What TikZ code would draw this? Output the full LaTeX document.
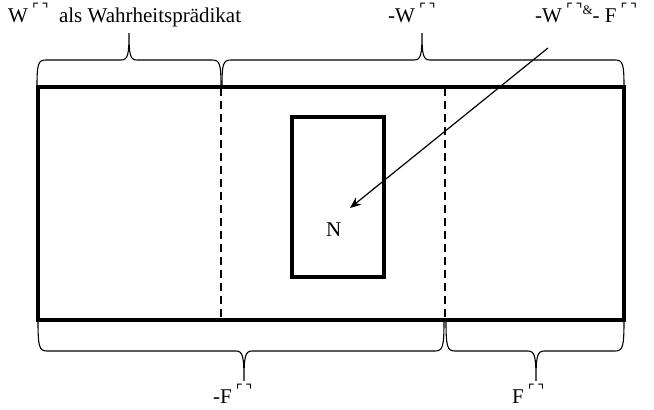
\documentclass[tikz,border=0pt]{standalone}
\usepackage{fontspec}
\setmainfont{Liberation Serif}
\newfontfamily\djv{DejaVu Sans}
\usetikzlibrary{arrows.meta}
\newcommand{\qc}{\kern4pt\raisebox{7.5pt}{\djv\fontsize{15}{15}\selectfont ⌜\kern2.5pt⌝}}
\newcommand{\supamp}{\raisebox{8pt}{\fontsize{13}{13}\selectfont \&}}
\newcommand{\wbrace}[6]{%
  \draw[bracestyle] (#1,#4) .. controls (#1,{#5+(#4-#5)*0.15}) and ({#1+1},#5) .. ({#1+9},#5)
    -- ({#3-8},#5) .. controls ({#3-1},#5) and (#3,{#5+(#6-#5)*0.2}) .. (#3,#6)
    .. controls (#3,{#5+(#6-#5)*0.2}) and ({#3+1},#5) .. ({#3+8},#5)
    -- ({#2-9},#5) .. controls ({#2-1},#5) and (#2,{#5+(#4-#5)*0.15}) .. (#2,#4);}
\begin{document}
\begin{tikzpicture}[x=1pt,y=-1pt,
  thickline/.style={line width=3.2pt},
  dashline/.style={line width=1.4pt,dash pattern=on 8pt off 5pt},
  bracestyle/.style={line width=1.1pt},
  lbl/.style={inner sep=0pt,anchor=base west,font=\fontsize{21}{24}\selectfont},
  arr/.style={line width=1.2pt,-{Stealth[length=11pt,width=9pt]}}]
\useasboundingbox (0,0) rectangle (654,410);
% main frame
\draw[thickline] (38,87) rectangle (624,320);
\draw[dashline] (221,88) -- (221,319);
\draw[dashline] (445,88) -- (445,319);
% inner box
\draw[thickline] (292,117) rectangle (384,277);
\node[lbl] (N) at (326,236) {N};
% braces
\wbrace{37}{221}{129}{87}{60}{33}
\wbrace{222}{624}{422}{87}{60}{33}
\wbrace{38}{444}{244}{320}{351}{381}
\wbrace{446}{624}{536}{320}{351}{381}
% labels
\node[lbl] (l1) at (8,22) {W\qc\ \ als Wahrheitsprädikat};
\node[lbl] (l2) at (388,22) {-W\qc};
\node[lbl] (l3) at (535,22) {-W\qc\supamp- F\qc};
\node[lbl] (l4) at (213,403) {-F\qc};
\node[lbl] (l5) at (512,403) {F\qc};
% arrow
\coordinate (s) at (548,48);
\coordinate (e) at (350,208);
\draw[arr] (s) -- (e);
\end{tikzpicture}
\end{document}
